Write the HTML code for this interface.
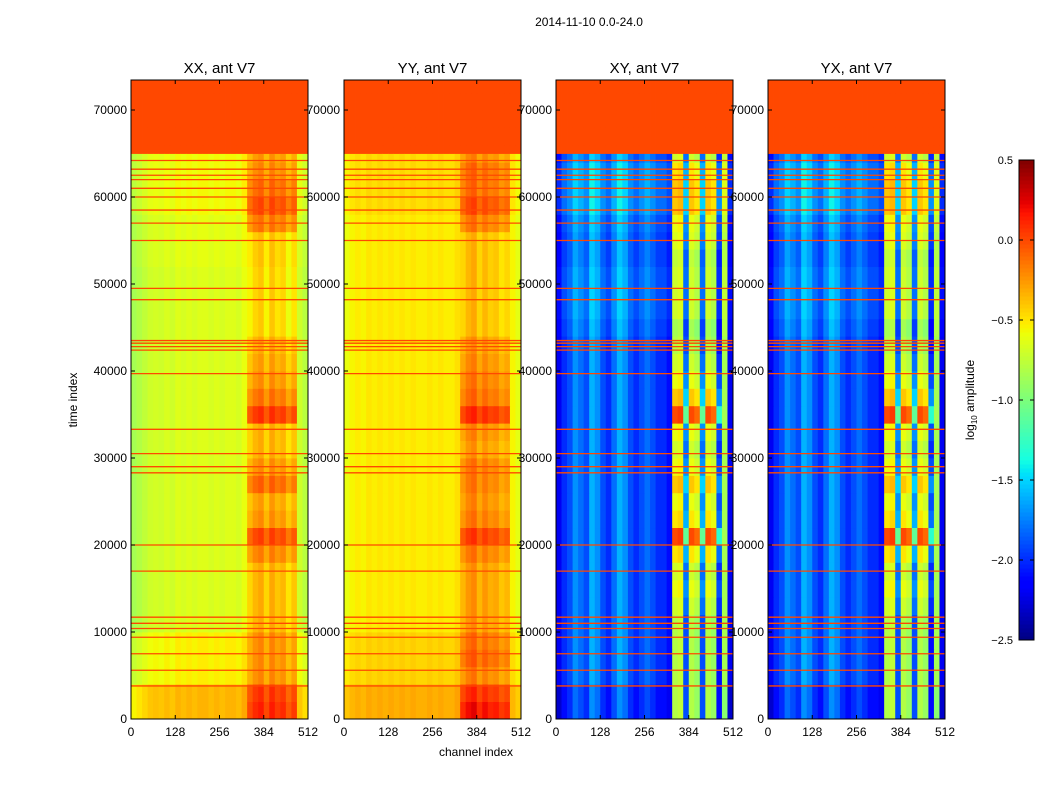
<!DOCTYPE html>
<html><head><meta charset="utf-8">
<style>
body{margin:0;background:#fff;}
svg text{font-family:"Liberation Sans",sans-serif;fill:#000;}
</style></head>
<body>
<svg id="fig" width="1050" height="800" xmlns="http://www.w3.org/2000/svg">
<rect width="1050" height="800" fill="#fff"/>
<text x="589" y="26" font-size="12" text-anchor="middle">2014-11-10 0.0-24.0</text>
<text x="77" y="400" font-size="12" text-anchor="middle" transform="rotate(-90 77 400)">time index</text>
<text x="476" y="756" font-size="12" text-anchor="middle">channel index</text>
<text x="974" y="400" font-size="12" text-anchor="middle" transform="rotate(-90 974 400)">log<tspan font-size="8" dy="3">10</tspan><tspan dy="-3"> amplitude</tspan></text>
<g id="panels"></g>
<g id="cbar"></g>
</svg>
<script>
const panelTitles = ["XX, ant V7","YY, ant V7","XY, ant V7","YX, ant V7"];
const xTickLabels = [0,128,256,384,512];
const yTickLabels = [0,10000,20000,30000,40000,50000,60000,70000];
const cbarTicks = [0.5,0.0,-0.5,-1.0,-1.5,-2.0,-2.5];
const colXX = [-0.85,-0.8,-0.75,-0.7,-0.68,-0.7,-0.66,-0.7,-0.64,-0.67,-0.64,-0.67,-0.64,-0.64,-0.67,-0.64,-0.67,-0.64,-0.64,-0.67,-0.6,-0.45,-0.35,-0.3,-0.45,-0.3,-0.4,-0.35,-0.5,-0.4,-0.7,-0.78];
const colYY = [-0.6,-0.55,-0.52,-0.55,-0.5,-0.53,-0.5,-0.53,-0.5,-0.53,-0.5,-0.53,-0.5,-0.53,-0.53,-0.5,-0.53,-0.5,-0.53,-0.53,-0.48,-0.35,-0.25,-0.2,-0.35,-0.25,-0.33,-0.3,-0.4,-0.35,-0.55,-0.62];
const colXY = [-2.2,-2.0,-1.9,-1.7,-1.8,-1.9,-1.6,-1.7,-1.9,-2.0,-1.8,-1.6,-1.7,-1.9,-2.0,-1.9,-1.8,-1.9,-2.0,-2.0,-2.1,-0.8,-0.75,-1.9,-0.8,-0.9,-1.9,-0.8,-0.9,-2.1,-0.85,-2.2];
const colYX = [-2.2,-2.0,-1.9,-1.7,-1.8,-1.9,-1.6,-1.7,-1.9,-2.0,-1.8,-1.6,-1.7,-1.9,-2.0,-1.9,-1.8,-1.9,-2.0,-2.0,-2.1,-0.8,-0.75,-1.9,-0.8,-0.9,-1.9,-0.8,-0.9,-2.1,-0.85,-2.2];
// row adjustments, bins of 2000 time samples (index 0 = 0-2000)
const rowXX = [0.3,0.3,0.12,0.12,0.12,0,0,0,0,0,0,0,0,0,0,0,0,0,0,0,0,0,0,0,0,0,0.03,0.03,0.03,0.08,0.08,0.08,0.08];
const rowYY = [0.2,0.2,0.08,0.08,0.08,0,0,0,0,0,0,0,0,0,0,0,0,0,0,0,0,0,0,0,0,0,0,0,0,0.05,0.05,0.05,0.05];
const rowXY = [-0.1,-0.1,0,0,0,0,0,0,0,0,0,0,0,0,0,0,0,0,0,0,0,0,0.05,0.1,0.1,0.1,0.05,0.05,0.1,0.2,0.2,0.2,0.1];
const rowYX = [-0.1,-0.1,0,0,0,0,0,0,0,0,0,0,0,0,0,0,0,0,0,0,0,0,0.05,0.1,0.1,0.1,0.05,0.05,0.1,0.2,0.2,0.2,0.1];
const bandXX = [0.15,0.1,0,0,0,0,0,0,0,0.15,0.35,0.1,0.05,0.25,0.1,0,0,0.4,0.2,0.1,0.05,0,-0.1,-0.1,-0.1,-0.1,-0.1,-0.1,0.15,0.25,0.15,0.05,0];
const bandYY = [0.25,0.15,0,0.1,0.05,0,0,0,0,0.1,0.3,0.1,0.05,0.1,0.1,0,0.05,0.35,0.15,0.1,0.05,0,-0.1,-0.1,-0.1,-0.1,-0.1,-0.1,0.1,0.2,0.1,0.1,0];
const bandXY = [0.1,0.1,0,0,0,0,0.1,0.2,0.1,0.3,0.8,0.3,0.2,0.4,0.2,0.1,0.2,0.8,0.4,0.2,0.1,0,-0.1,0,0,0,0,0.1,0.1,0.2,0.2,0.1,0];
const bandYX = [0.1,0.1,0,0,0,0,0.1,0.2,0.1,0.3,0.8,0.3,0.2,0.4,0.2,0.1,0.2,0.8,0.4,0.2,0.1,0,-0.1,0,0,0,0,0.1,0.1,0.2,0.2,0.1,0];
const flaggedLevel = 0.0;
const flaggedStart = 65000;
const flagLines = [3800,5600,7500,9400,10400,11000,11700,17000,20000,28300,29000,30500,33300,39700,42400,42800,43200,43500,48200,49500,55000,57000,58500,60000,61000,62000,62500,63200,64200];

const colsAll=[colXX,colYY,colXY,colYX], rowsAll=[rowXX,rowYY,rowXY,rowYX], bandsAll=[bandXX,bandYY,bandXY,bandYX];
const panelX=[131,344,556,768], PW=177, PTOP=80, PBOT=719, TMAX=73450, CMAX=512, VMIN=-2.5, VMAX=0.5;
const NS="http://www.w3.org/2000/svg";
function yScale(t){return PBOT-(t/TMAX)*(PBOT-PTOP);}
function xScale(p,ch){return panelX[p]+ch/CMAX*PW;}
function interp(x,pts){for(let i=0;i<pts.length-1;i++){const [x0,y0]=pts[i],[x1,y1]=pts[i+1];if(x<=x1)return y0+(y1-y0)*(x-x0)/(x1-x0);}return pts[pts.length-1][1];}
function jet(v){let x=(v-VMIN)/(VMAX-VMIN);x=Math.max(0,Math.min(1,x));
 const r=interp(x,[[0,0],[0.35,0],[0.66,1],[0.89,1],[1,0.5]]);
 const g=interp(x,[[0,0],[0.125,0],[0.375,1],[0.64,1],[0.91,0],[1,0]]);
 const b=interp(x,[[0,0.5],[0.11,1],[0.34,1],[0.65,0],[1,0]]);
 return `rgb(${Math.round(255*r)},${Math.round(255*g)},${Math.round(255*b)})`;}
function mk(tag,attrs,parent){const e=document.createElementNS(NS,tag);for(const k in attrs)e.setAttribute(k,attrs[k]);parent.appendChild(e);return e;}
const root=document.getElementById('panels');
const bin=2000, chBin=16;
for(let p=0;p<4;p++){
 const g=mk('g',{},root);
 
 
 const cols=colsAll[p],rows=rowsAll[p],bands=bandsAll[p];
 for(let r=0;r*bin<TMAX;r++){
  const t0=r*bin,t1=Math.min(TMAX,(r+1)*bin);
  for(let c=0;c<cols.length;c++){
   const x0=xScale(p,c*chBin),x1=xScale(p,(c+1)*chBin);
   let v=cols[c]+(rows[r]||0); if(c>=21&&c<=29) v+=(bands[r]||0);
   if(t0>=flaggedStart){
    const e=mk('rect',{x:x0,y:yScale(t1),width:x1-x0+0.4,height:yScale(t0)-yScale(t1)+0.4,fill:jet(flaggedLevel)},g);
    
    
    continue;
   }
   const tt1=Math.min(t1,flaggedStart);
   const el=mk('rect',{x:x0,y:yScale(tt1),width:x1-x0+0.4,height:yScale(t0)-yScale(tt1)+0.4,fill:jet(v)},g);
   
   
   if(t1>flaggedStart){
    const e2=mk('rect',{x:x0,y:yScale(t1),width:x1-x0+0.4,height:yScale(flaggedStart)-yScale(t1)+0.4,fill:jet(flaggedLevel)},g);
    
    
   }
  }
 }
 for(const t of flagLines){
  const l=mk('line',{x1:panelX[p],x2:panelX[p]+PW,y1:yScale(t),y2:yScale(t),stroke:jet(0.0),'stroke-width':1.3},g);
  
  
 }
 const fr=mk('rect',{x:panelX[p],y:PTOP,width:PW,height:PBOT-PTOP,fill:'none',stroke:'#000','stroke-width':1},g);
 
 
 const tt=mk('text',{x:panelX[p]+PW/2,y:73,'font-size':15,'text-anchor':'middle'},g);tt.textContent=panelTitles[p];
 
 
 for(const xv of xTickLabels){const x=xScale(p,xv);
  mk('line',{x1:x,x2:x,y1:PBOT,y2:PBOT-4,stroke:'#000'},g);mk('line',{x1:x,x2:x,y1:PTOP,y2:PTOP+4,stroke:'#000'},g);
  const lt=mk('text',{x:x,y:PBOT+17,'font-size':12,'text-anchor':'middle'},g);lt.textContent=xv;
  
  }
 for(const yv of yTickLabels){const y=yScale(yv);
  mk('line',{x1:panelX[p],x2:panelX[p]+4,y1:y,y2:y,stroke:'#000'},g);mk('line',{x1:panelX[p]+PW,x2:panelX[p]+PW-4,y1:y,y2:y,stroke:'#000'},g);
  const lt=mk('text',{x:panelX[p]-4,y:y+4,'font-size':12,'text-anchor':'end'},g);lt.textContent=yv;
  
  }
}
// colorbar
const cb=document.getElementById('cbar');


const CBX=1019,CBW=15,CBT=160,CBB=640;
function cbY(v){return CBB-(v-VMIN)/(VMAX-VMIN)*(CBB-CBT);}
for(let i=0;i<120;i++){const v0=VMIN+i*(VMAX-VMIN)/120,v1=VMIN+(i+1)*(VMAX-VMIN)/120;
 const s=mk('rect',{x:CBX,y:cbY(v1),width:CBW,height:cbY(v0)-cbY(v1)+0.5,fill:jet((v0+v1)/2)},cb);
 
 }
mk('rect',{x:CBX,y:CBT,width:CBW,height:CBB-CBT,fill:'none',stroke:'#000'},cb);
for(const v of cbarTicks){const y=cbY(v);
 mk('line',{x1:CBX,x2:CBX+4,y1:y,y2:y,stroke:'#000'},cb);mk('line',{x1:CBX+CBW,x2:CBX+CBW-4,y1:y,y2:y,stroke:'#000'},cb);
 const lt=mk('text',{x:1013,y:y+4,'font-size':11,'text-anchor':'end'},cb);lt.textContent=(v<0?'\u2212':'')+Math.abs(v).toFixed(1);
 
 }
</script>
</body></html>
